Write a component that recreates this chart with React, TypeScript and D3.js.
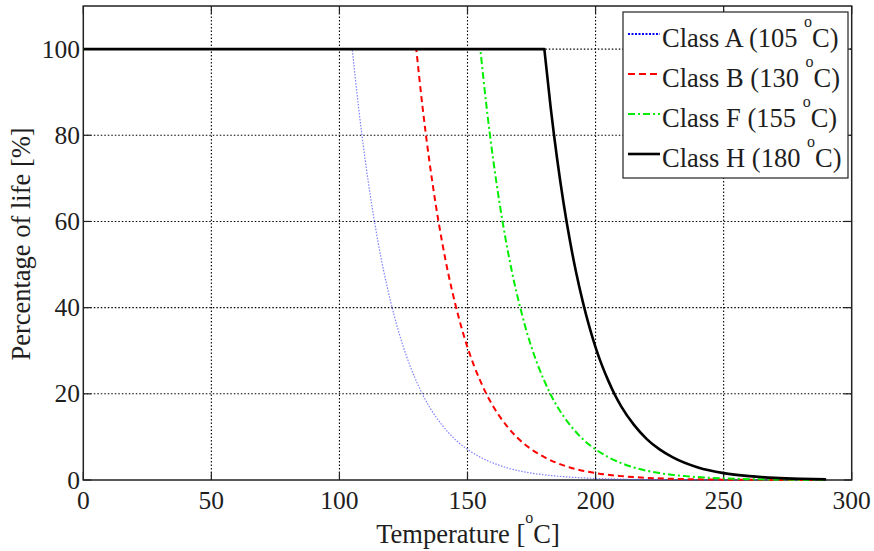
import React from 'react';
import * as d3 from 'd3';

const xTicks = [0, 50, 100, 150, 200, 250, 300];
const yTicks = [0, 20, 40, 60, 80, 100];

const seriesNames = ['Class A', 'Class B', 'Class F', 'Class H'];
const ratedTemps = [105, 130, 155, 180];

const classATemps = [0, 105, 107.5, 110, 112.5, 115, 117.5, 120, 122.5, 125, 127.5, 130, 132.5, 135, 140, 145, 150, 155, 165, 175, 185, 195, 205, 215, 230, 250, 290];
const classAValues = [100, 100, 86.3, 74.5, 64.3, 55.5, 47.9, 41.4, 35.7, 30.8, 26.6, 23.0, 19.8, 17.1, 12.8, 9.5, 7.1, 5.3, 2.9, 1.6, 0.9, 0.5, 0.28, 0.15, 0.06, 0.02, 0];

const classBTemps = [0, 130, 132.5, 135, 137.5, 140, 142.5, 145, 147.5, 150, 152.5, 155, 157.5, 160, 165, 170, 175, 180, 190, 200, 210, 220, 230, 240, 255, 275, 290];
const classBValues = [100, 100, 86.3, 74.5, 64.3, 55.5, 47.9, 41.4, 35.7, 30.8, 26.6, 23.0, 19.8, 17.1, 12.8, 9.5, 7.1, 5.3, 2.9, 1.6, 0.9, 0.5, 0.28, 0.15, 0.06, 0.02, 0.01];

const classFTemps = [0, 155, 157.5, 160, 162.5, 165, 167.5, 170, 172.5, 175, 177.5, 180, 182.5, 185, 190, 195, 200, 205, 215, 225, 235, 245, 255, 265, 275, 285, 290];
const classFValues = [100, 100, 86.3, 74.5, 64.3, 55.5, 47.9, 41.4, 35.7, 30.8, 26.6, 23.0, 19.8, 17.1, 12.8, 9.5, 7.1, 5.3, 2.9, 1.6, 0.9, 0.5, 0.28, 0.15, 0.09, 0.05, 0.04];

const classHTemps = [0, 180, 182.5, 185, 187.5, 190, 192.5, 195, 197.5, 200, 202.5, 205, 207.5, 210, 215, 220, 225, 230, 240, 250, 260, 270, 280, 290];
const classHValues = [100, 100, 86.3, 74.5, 64.3, 55.5, 47.9, 41.4, 35.7, 30.8, 26.6, 23.0, 19.8, 17.1, 12.8, 9.5, 7.1, 5.3, 2.9, 1.6, 0.9, 0.5, 0.28, 0.15];

const W = 874;
const H = 551;
const X0 = 83.3;
const X1 = 851.7;
const Y0 = 480;
const Y1 = 6;

const styles = [
  { stroke: '#4a4aff', width: 1.2, dash: '1.5,1.5', opacity: 0.7, legendStroke: '#0000ff', legendWidth: 2, legendDash: '2,1.5' },
  { stroke: '#ff0000', width: 2, dash: '6,4', opacity: 1, legendStroke: '#ff0000', legendWidth: 2, legendDash: '7,4' },
  { stroke: '#00ee00', width: 2, dash: '7,3,2,3', opacity: 1, legendStroke: '#00ee00', legendWidth: 2, legendDash: '7,3,2,3' },
  { stroke: '#000000', width: 2.6, dash: 'none', opacity: 1, legendStroke: '#000000', legendWidth: 2.6, legendDash: 'none' },
];

const FONT = '"Liberation Serif", "Times New Roman", serif';

export default function App() {
  const x = d3.scaleLinear().domain([0, 300]).range([X0, X1]);
  const y = d3.scaleLinear().domain([0, 110]).range([Y0, Y1]);

  const temps = [classATemps, classBTemps, classFTemps, classHTemps];
  const vals = [classAValues, classBValues, classFValues, classHValues];

  const lineLin = d3.line<[number, number]>().x((d) => x(d[0])).y((d) => y(d[1]));
  const lineMono = d3
    .line<[number, number]>()
    .x((d) => x(d[0]))
    .y((d) => y(d[1]))
    .curve(d3.curveMonotoneX);

  const paths = temps.map((t, i) => {
    const pts: [number, number][] = t.map((tt, j) => [tt, vals[i][j]]);
    const flat = lineLin(pts.slice(0, 2)) || '';
    const decay = (lineMono(pts.slice(1)) || '').replace(/^M/, 'L');
    return flat + decay;
  });

  const tickLen = 8;
  const textColor = '#1e1e1e';

  const legendX = 623;
  const legendY = 12;
  const legendW = 225;
  const legendH = 166;

  return (
    <svg
      width={W}
      height={H}
      style={{ position: 'absolute', left: 0, top: 0, background: '#fff' }}
      fontFamily={FONT}
    >
      <rect x={0} y={0} width={W} height={H} fill="#fff" />
      {/* grid */}
      <g stroke="#000" strokeWidth={1.1} strokeDasharray="1.5,2">
        {xTicks
          .filter((t) => t > 0 && t < 300)
          .map((t) => (
            <line key={'gx' + t} x1={x(t)} x2={x(t)} y1={Y0} y2={Y1} />
          ))}
        {yTicks
          .filter((t) => t > 0)
          .map((t) => (
            <line key={'gy' + t} x1={X0} x2={X1} y1={y(t)} y2={y(t)} />
          ))}
      </g>
      {/* box */}
      <rect x={X0} y={Y1} width={X1 - X0} height={Y0 - Y1} fill="none" stroke="#222" strokeWidth={1.5} />
      {/* ticks */}
      <g stroke="#222" strokeWidth={1.2}>
        {xTicks.map((t) => (
          <g key={'tx' + t}>
            <line x1={x(t)} x2={x(t)} y1={Y0} y2={Y0 - tickLen} />
            <line x1={x(t)} x2={x(t)} y1={Y1} y2={Y1 + tickLen} />
          </g>
        ))}
        {yTicks.map((t) => (
          <g key={'ty' + t}>
            <line x1={X0} x2={X0 + tickLen} y1={y(t)} y2={y(t)} />
            <line x1={X1} x2={X1 - tickLen} y1={y(t)} y2={y(t)} />
          </g>
        ))}
      </g>
      {/* tick labels */}
      <g fontSize={25.5} fill={textColor}>
        {xTicks.map((t) => (
          <text key={'lx' + t} x={x(t)} y={509} textAnchor="middle">
            {t}
          </text>
        ))}
        {yTicks.map((t) => (
          <text key={'ly' + t} x={80} y={y(t) + 8.5} textAnchor="end">
            {t}
          </text>
        ))}
      </g>
      {/* axis labels */}
      <text x={468} y={543} fontSize={26.5} fill={textColor} textAnchor="middle">
        Temperature [<tspan fontSize={16} dy={-20}>o</tspan>
        <tspan dy={20}>C]</tspan>
      </text>
      <text
        transform={`translate(30,244) rotate(-90)`}
        fontSize={26.5}
        fill={textColor}
        textAnchor="middle"
      >
        Percentage of life [%]
      </text>
      {/* series */}
      {paths.map((p, i) => (
        <path
          key={'s' + i}
          d={p}
          fill="none"
          stroke={styles[i].stroke}
          strokeWidth={styles[i].width}
          strokeDasharray={styles[i].dash}
          strokeOpacity={styles[i].opacity}
          strokeLinejoin="round"
        />
      ))}
      {/* legend */}
      <rect x={legendX} y={legendY} width={legendW} height={legendH} fill="#fff" stroke="#222" strokeWidth={1.2} />
      {seriesNames.map((name, i) => {
        const base = legendY + 35 + i * 40;
        return (
          <g key={'lg' + i}>
            <line
              x1={legendX + 5}
              x2={legendX + 37}
              y1={base - 13}
              y2={base - 13}
              stroke={styles[i].legendStroke}
              strokeWidth={styles[i].legendWidth}
              strokeDasharray={styles[i].legendDash}
            />
            <text x={legendX + 39} y={base} fontSize={26.5} fill={textColor}>
              {`${name} (${ratedTemps[i]} `}
              <tspan fontSize={16} dy={-20}>o</tspan>
              <tspan dy={20}>C)</tspan>
            </text>
          </g>
        );
      })}
    </svg>
  );
}
